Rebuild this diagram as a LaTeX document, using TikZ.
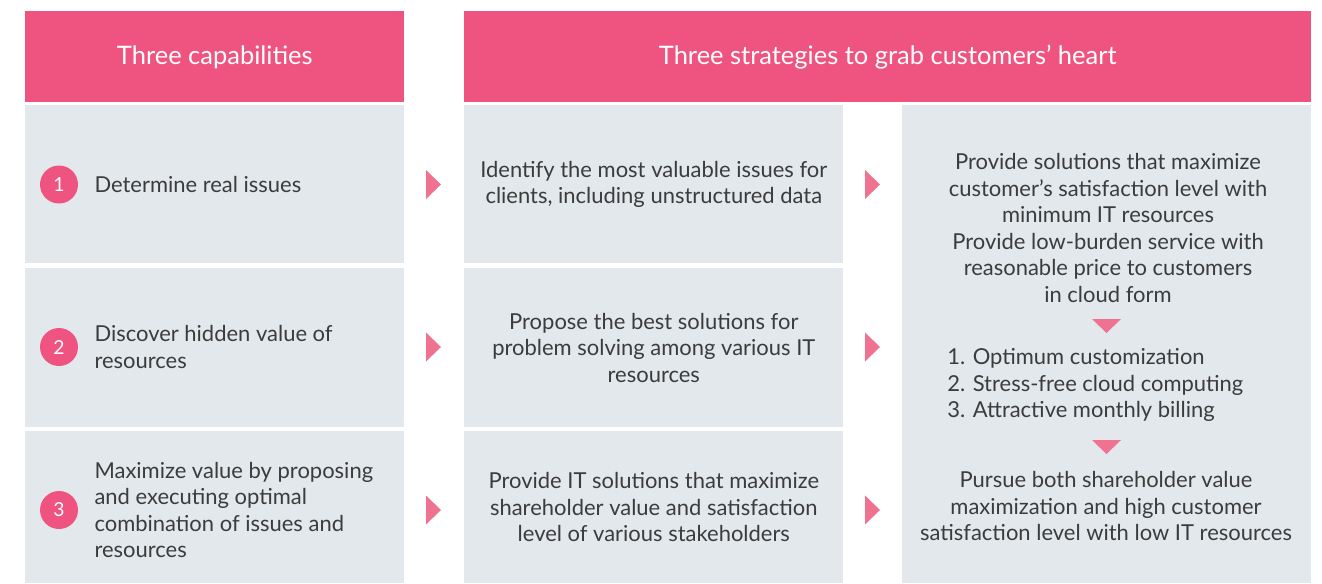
\documentclass[tikz,border=0pt]{standalone}
\usepackage{fontspec}
\setmainfont{Lato}
\usetikzlibrary{positioning}
\definecolor{headpink}{HTML}{EF5480}
\definecolor{cellgrey}{HTML}{E3E8EC}
\definecolor{arrowpink}{HTML}{F07291}
\definecolor{bodytext}{HTML}{3C3C3C}
\newcommand\bodyfont{\fontsize{12.5}{15.1}\selectfont}
\begin{document}
\begin{tikzpicture}[x=0.02cm, y=-0.02cm,
  header/.style={fill=headpink, text=white, font=\fontsize{14.5}{17}\selectfont, minimum height=1.82cm, inner sep=0pt, anchor=north west},
  cell/.style={fill=cellgrey, text=bodytext, font=\bodyfont, align=center, inner sep=0pt, anchor=north west, minimum width=7.58cm},
  numdot/.style={circle, fill=headpink, text=white, minimum size=0.76cm, inner sep=0pt, font=\fontsize{11}{13}\selectfont},
  body/.style={text=bodytext, font=\bodyfont, inner sep=0pt}]
 \useasboundingbox (0,0) rectangle (1322,583);
 % headers
 \node[header, minimum width=7.58cm] (caphead) at (25,11) {Three capabilities};
 \node[header, minimum width=16.94cm] (strathead) at (464,11) {Three strategies to grab customers’ heart};
 % left column
 \node[cell, minimum height=3.16cm] (cap1) at (25,105) {};
 \node[cell, minimum height=3.18cm] (cap2) at (25,268) {};
 \node[cell, minimum height=3.04cm] (cap3) at (25,431) {};
 \node[numdot] (n1) at (59,184.5) {1};
 \node[numdot] (n2) at (59,347) {2};
 \node[numdot] (n3) at (59,510) {3};
 \node[body, anchor=west, align=left, right=9pt of n1] (t1) {Determine real issues};
 \node[body, anchor=west, align=left, right=9pt of n2] (t2) {Discover hidden value of\\resources};
 \node[body, anchor=west, align=left, right=9pt of n3] (t3) {Maximize value by proposing\\and executing optimal\\combination of issues and\\resources};
 % middle column
 \node[cell, minimum height=3.16cm] (str1) at (464,105) {Identify the most valuable issues for\\clients, including unstructured data};
 \node[cell, minimum height=3.18cm] (str2) at (464,268) {Propose the best solutions for\\problem solving among various IT\\resources};
 \node[cell, minimum height=3.04cm] (str3) at (464,431) {Provide IT solutions that maximize\\shareholder value and satisfaction\\level of various stakeholders};
 % right column
 \node[cell, minimum width=8.18cm, minimum height=9.56cm] (goal) at (902,105) {};
 \node[body, align=center] (solve) at (1108,228) {Provide solutions that maximize\\customer’s satisfaction level with\\minimum IT resources\\Provide low-burden service with\\reasonable price to customers\\in cloud form};
 \node[body, align=left, anchor=west] (keys) at (947,385) {1. Optimum customization\\2. Stress-free cloud computing\\3. Attractive monthly billing};
 \node[body, align=center] (pursue) at (1106,506) {Pursue both shareholder value\\maximization and high customer\\satisfaction level with low IT resources};
 % arrows
 \foreach \y in {184.5,347,510}{
  \fill[arrowpink] (426,\y-14.5)--(441,\y)--(426,\y+14.5)--cycle;
  \fill[arrowpink] (865,\y-14.5)--(880,\y)--(865,\y+14.5)--cycle;
 }
 \foreach \y in {319,440}
  \fill[arrowpink] (1092,\y)--(1121,\y)--(1106.5,\y+14)--cycle;
\end{tikzpicture}
\end{document}
